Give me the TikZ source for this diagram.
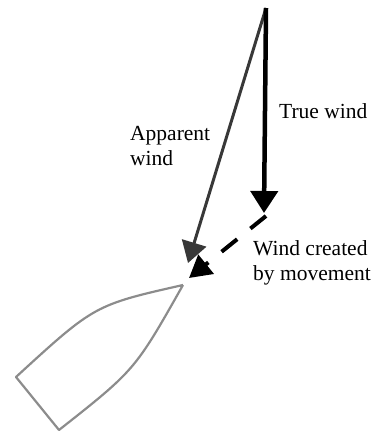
\documentclass[tikz,border=0pt]{standalone}
\usepackage{fontspec}
\setmainfont{Liberation Serif}
\usetikzlibrary{arrows.meta}
\begin{document}
\begin{tikzpicture}[x=1pt,y=-1pt,
  lbl/.style={anchor=base west, inner sep=0pt, align=left, font=\fontsize{21.5}{24.5}\selectfont},
  truewind/.style={line width=4.5pt, black, -{Triangle[width=27pt,length=22pt]}},
  appwind/.style={line width=3pt, black!78, -{Triangle[width=25pt,length=21pt]}},
  movewind/.style={line width=4pt, black, dash pattern=on 20pt off 17pt, -{Triangle[width=24pt,length=22pt]}},
  boat/.style={line width=2.2pt, black!45, line join=round}]
\useasboundingbox (0,0) rectangle (376,433);
% points
\coordinate (top) at (266,8);
\coordinate (twend) at (264,213);
\coordinate (awend) at (188,263);
\coordinate (mvstart) at (266,216);
\coordinate (mvend) at (189,278);
\coordinate (bow) at (183,285);
\coordinate (sternl) at (16,377);
\coordinate (sternr) at (59,430);
% arrows
\draw[appwind] (top) -- (awend);
\draw[truewind] (top) -- (twend);
\draw[movewind] (mvstart) -- (mvend);
% boat
\draw[boat] (bow) .. controls (94.5,305) .. (sternl) -- (sternr) .. controls (135,370) .. (bow);
% labels
\node[lbl] (tl) at (279,118) {True wind};
\node[lbl] (al) at (130,165) {Apparent\\wind};
\node[lbl] (ml) at (253,280) {Wind created\\by movement};
\end{tikzpicture}
\end{document}
